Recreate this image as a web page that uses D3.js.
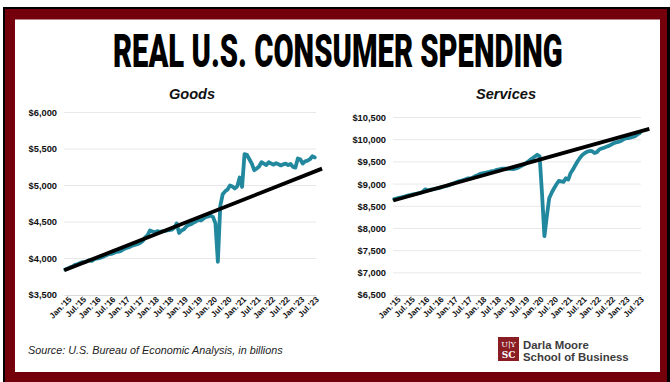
<!DOCTYPE html>
<html>
<head>
<meta charset="utf-8">
<script src="https://cdn.jsdelivr.net/npm/d3@7/dist/d3.min.js"></script>
<style>
  html, body { margin: 0; padding: 0; background: #ffffff; }
  svg { display: block; }
  text { font-family: "Liberation Sans", Arial, sans-serif; }
</style>
</head>
<body>
<svg id="chart" width="670" height="382"></svg>
<script>
// Monthly categories, Jan 2015 through Aug 2023
const monthNames = ["Jan", "Feb", "Mar", "Apr", "May", "Jun", "Jul", "Aug", "Sep", "Oct", "Nov", "Dec"];
const months = [];
for (let y = 2015; y <= 2023; y++) {
  for (let m = 0; m < 12; m++) {
    if (y === 2023 && m > 7) break;
    months.push(monthNames[m] + "." + "'" + String(y).slice(2));
  }
}
// x tick labels (every six months)
const tickLabels = months.filter(d => d.startsWith("Jan") || d.startsWith("Jul"));

// Real goods spending, billions
const goods = [
  3850, 3862, 3878, 3890, 3912, 3920, 3935, 3950, 3948, 3962, 3975, 3968,
  3990, 4000, 4005, 4015, 4030, 4045, 4060, 4062, 4075, 4090, 4095, 4105,
  4125, 4140, 4150, 4165, 4180, 4190, 4200, 4215, 4240, 4290, 4320, 4385,
  4370, 4360, 4375, 4365, 4370, 4375, 4385, 4390, 4395, 4420, 4480, 4350,
  4385, 4400, 4440, 4460, 4470, 4490, 4510, 4530, 4520, 4545, 4570, 4575,
  4585, 4570, 4480, 3955, 4720, 4880, 4920, 4945, 5000, 4985, 4960, 4990,
  5110, 4980, 5430, 5420, 5360, 5300, 5210, 5230, 5260, 5320, 5300, 5280,
  5320, 5300, 5285, 5305, 5290, 5275, 5290, 5300, 5280, 5295, 5255, 5245,
  5370, 5360, 5300, 5330, 5340, 5360, 5400, 5385
];

// Real services spending, billions
const services = [
  8660, 8675, 8690, 8700, 8715, 8730, 8745, 8755, 8770, 8780, 8790, 8800,
  8830, 8880, 8860, 8870, 8880, 8890, 8905, 8915, 8930, 8945, 8960, 8975,
  9000, 9020, 9040, 9060, 9075, 9090, 9110, 9130, 9125, 9145, 9180, 9200,
  9230, 9240, 9250, 9265, 9275, 9290, 9300, 9320, 9330, 9345, 9350, 9345,
  9345, 9340, 9335, 9350, 9370, 9400, 9430, 9460, 9500, 9545, 9580, 9620,
  9660, 9625, 8780, 7825, 8270, 8680, 8800, 8900, 8990, 9070, 9060, 9050,
  9130, 9100, 9250, 9330, 9430, 9520, 9600, 9660, 9700, 9730, 9745, 9740,
  9700, 9720, 9780, 9800, 9820, 9840, 9860, 9890, 9920, 9940, 9950, 9970,
  10000, 10030, 10035, 10045, 10060, 10080, 10120, 10150
];

// Pre-2020 linear trends: [month index, value] at each end
const goodsTrend = [[-0.4, 3838], [106, 5231]];
const servicesTrend = [[-0.4, 8629], [107, 10242]];

const goodsTicks = [3500, 4000, 4500, 5000, 5500, 6000];
const servicesTicks = [6500, 7000, 7500, 8000, 8500, 9000, 9500, 10000, 10500];

const svg = d3.select("#chart");

// Frame
svg.append("rect").attr("x", 3).attr("y", 7).attr("width", 667).attr("height", 375)
  .attr("fill", "#000");
svg.append("rect").attr("x", 5).attr("y", 9).attr("width", 662).attr("height", 373)
  .attr("fill", "#73000a");
svg.append("rect").attr("x", 15).attr("y", 19.5).attr("width", 645).attr("height", 352.5)
  .attr("fill", "#fff");

// Title, squeezed horizontally into a condensed poster face
const title = svg.append("text")
  .attr("x", 0).attr("y", 0)
  .style("font-family", "Roboto, 'DejaVu Sans Condensed', sans-serif")
  .style("font-weight", 900).style("font-size", "47px")
  .attr("fill", "#000")
  .text("REAL U.S. CONSUMER SPENDING");
const titleW = title.node().getComputedTextLength();
title.attr("transform", `translate(113,66.5) scale(${450 / titleW},1)`);

const teal = "#22889d";

function panel(opts) {
  const { left, right, top, bottom, values, ticks, trend, title, titleX } = opts;
  const g = svg.append("g");
  const x = d3.scaleBand().domain(months).range([left, right]).paddingInner(0).paddingOuter(0);
  const xi = d3.scaleLinear().domain([0, months.length]).range([left, right]);
  const xc = i => xi(i + 0.5);
  const y = d3.scaleLinear().domain([ticks[0], ticks[ticks.length - 1]]).range([bottom, top]);

  // Gridlines
  g.append("g").selectAll("line").data(ticks.slice(1)).join("line")
    .attr("x1", left).attr("x2", right)
    .attr("y1", d => y(d)).attr("y2", d => y(d))
    .attr("stroke", "#e8e8e8").attr("stroke-width", 1);

  // y axis labels
  const yAxis = d3.axisLeft(y).tickValues(ticks).tickSize(0).tickPadding(7)
    .tickFormat(d => "$" + d3.format(",")(d));
  const ya = g.append("g").attr("transform", `translate(${left},0)`).call(yAxis);
  ya.select(".domain").remove();
  ya.selectAll("text")
    .style("font-family", "'Liberation Sans', Arial, sans-serif")
    .style("font-weight", "bold").style("font-size", "9.3px").attr("fill", "#111");

  // x axis: baseline and rotated labels
  const xAxis = d3.axisBottom(x).tickValues(tickLabels).tickSize(0).tickPadding(4);
  const xa = g.append("g").attr("transform", `translate(0,${bottom})`).call(xAxis);
  xa.select(".domain").attr("stroke", "#d9d9d9").attr("stroke-width", 1);
  xa.selectAll("text")
    .style("font-family", "'Liberation Sans', Arial, sans-serif")
    .style("font-weight", "bold").style("font-size", "8.2px").attr("fill", "#111")
    .attr("text-anchor", "end")
    .attr("dx", "1.5").attr("dy", "0.3em")
    .attr("transform", "rotate(-45)");
  xa.selectAll(".tick").each(function () {
    const t = d3.select(this);
    t.select("text").attr("x", 0).attr("y", 6);
  });

  // Series line
  const line = d3.line().x((d, i) => xc(i)).y(d => y(d)).curve(d3.curveLinear);
  g.append("path").datum(values).attr("d", line)
    .attr("fill", "none").attr("stroke", teal).attr("stroke-width", 3.8)
    .attr("stroke-linejoin", "round").attr("stroke-linecap", "round");

  // Trend line
  g.append("line")
    .attr("x1", xc(trend[0][0])).attr("y1", y(trend[0][1]))
    .attr("x2", xc(trend[1][0])).attr("y2", y(trend[1][1]))
    .attr("stroke", "#000").attr("stroke-width", 3.8);

  // Panel title
  svg.append("text").attr("x", titleX).attr("y", 99).attr("text-anchor", "middle")
    .style("font-family", "'Liberation Sans', Arial, sans-serif")
    .style("font-style", "italic").style("font-weight", "bold").style("font-size", "14.6px")
    .attr("fill", "#111").text(title);
}

panel({ left: 64, right: 316, top: 112.5, bottom: 295, values: goods, ticks: goodsTicks,
  trend: goodsTrend, title: "Goods", titleX: 192 });
panel({ left: 393, right: 641, top: 117.5, bottom: 295, values: services, ticks: servicesTicks,
  trend: servicesTrend, title: "Services", titleX: 506 });

// Source note
svg.append("text").attr("x", 28).attr("y", 354)
  .style("font-family", "'Liberation Sans', Arial, sans-serif")
  .style("font-style", "italic").style("font-size", "10.8px").attr("fill", "#222")
  .text("Source: U.S. Bureau of Economic Analysis, in billions");

// School mark
const logo = svg.append("g");
logo.append("rect").attr("x", 498).attr("y", 337).attr("width", 21).attr("height", 24).attr("fill", "#8a1c24");
logo.append("text").attr("x", 508.5).attr("y", 347).attr("text-anchor", "middle")
  .style("font-family", "'DejaVu Serif', serif").style("font-size", "8px").attr("fill", "#fff").text("U|Y");
logo.append("text").attr("x", 508.5).attr("y", 358).attr("text-anchor", "middle")
  .style("font-family", "'DejaVu Serif', serif").style("font-weight", "bold").style("font-size", "9px").attr("fill", "#fff").text("SC");
logo.append("text").attr("x", 523).attr("y", 348.5)
  .style("font-family", "'Liberation Sans', Arial, sans-serif").style("font-weight", "bold")
  .style("font-size", "11.4px").attr("fill", "#3d3d3d").text("Darla Moore");
logo.append("text").attr("x", 523).attr("y", 361)
  .style("font-family", "'Liberation Sans', Arial, sans-serif").style("font-weight", "bold")
  .style("font-size", "11.4px").attr("fill", "#3d3d3d").text("School of Business");
</script>
</body>
</html>
